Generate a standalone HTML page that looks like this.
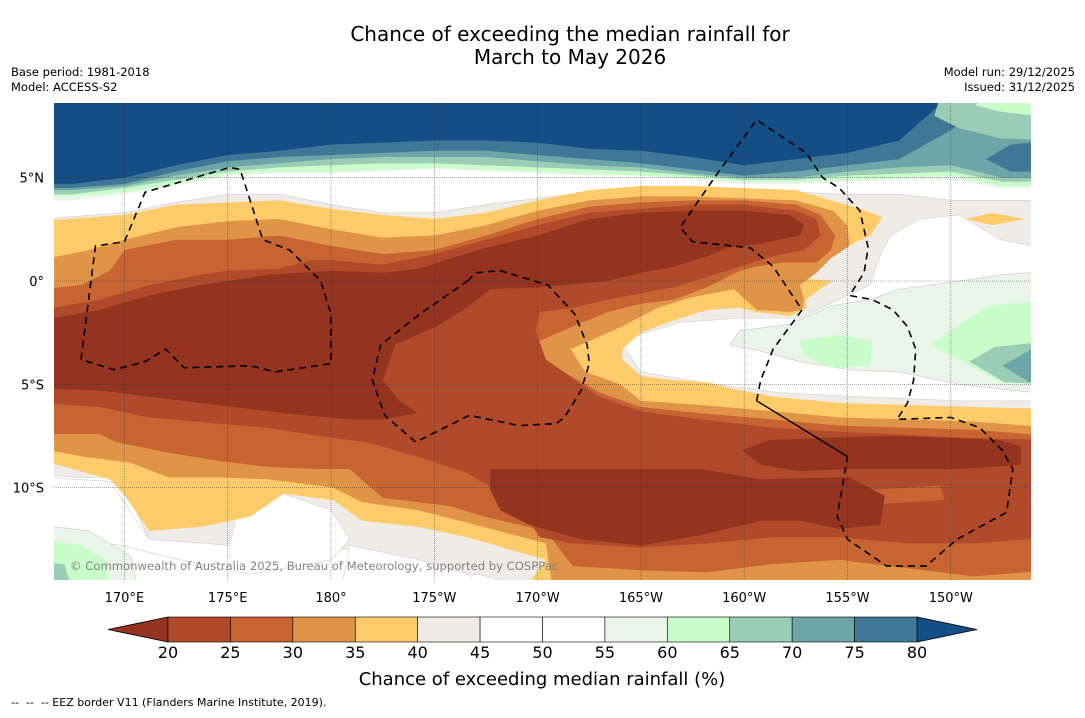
<!DOCTYPE html>
<html><head><meta charset="utf-8"><style>
html,body{margin:0;padding:0;background:#fff;}
body{width:1085px;height:713px;overflow:hidden;font-family:"Liberation Sans","DejaVu Sans",sans-serif;}
svg text{font-family:"DejaVu Sans","Liberation Sans",sans-serif;}
</style></head><body>
<svg id="chart" width="1085" height="713" viewBox="0 0 1085 713" xmlns="http://www.w3.org/2000/svg">
<defs><clipPath id="mapclip"><rect x="54" y="103" width="977" height="477"/></clipPath></defs>
<text x="570" y="41" font-size="20" text-anchor="middle" fill="#000">Chance of exceeding the median rainfall for</text>
<text x="570" y="64" font-size="20" text-anchor="middle" fill="#000">March to May 2026</text>
<text x="11" y="76" font-size="11.5">Base period: 1981-2018</text>
<text x="11" y="91" font-size="11.5">Model: ACCESS-S2</text>
<text x="1075" y="76" font-size="11.5" text-anchor="end">Model run: 29/12/2025</text>
<text x="1075" y="91" font-size="11.5" text-anchor="end">Issued: 31/12/2025</text>
<g id="map" clip-path="url(#mapclip)"><rect x="54" y="103" width="977" height="477" fill="#ffffff"/></g>
<g id="axes"></g>
<g id="cbar"></g>
<text x="542" y="685" font-size="18" text-anchor="middle">Chance of exceeding median rainfall (%)</text>
<text x="11" y="706" font-size="11" style="white-space:pre" xml:space="preserve">--  --  -- EEZ border V11 (Flanders Marine Institute, 2019).</text>
</svg>
<script>
// Colour scale data
const levels = [20,25,30,35,40,45,50,55,60,65,70,75,80];
const binColors = ["#b04a2a","#c86432","#e09448","#fecb6a","#efebe5","#ffffff","#ffffff","#e8f5e8","#c8fcc8","#9acdb5","#6da5a8","#3f7797"];
const lowColor = "#94331f";
const highColor = "#154d87";
const lonTicks = [170,175,180,185,190,195,200,205,210];
const lonTickLabels = ["170°E","175°E","180°","175°W","170°W","165°W","160°W","155°W","150°W"];
const latTicks = [5,0,-5,-10];
const latTickLabels = ["5°N","0°","5°S","10°S"];
// Northern band contour lats at columns
const bandLons = [165,167.5,170,172.5,175,177.5,180,182.5,185,187.5,190,192.5,195,197.5,200,202.5,205,207.5,210,212.5,215];
const n55 = [3.9,3.9,4.2,4.6,5.1,5.2,5.2,5.3,5.4,5.3,5.2,5.1,5.1,4.9,4.7,4.7,4.8,4.9,4.9,4.5,4.5];
const n60 = [4.1,4.1,4.3,4.7,5.2,5.3,5.3,5.4,5.5,5.4,5.3,5.2,5.1,5.0,4.8,4.8,4.9,5.0,5.1,4.6,4.6];
const n65 = [4.2,4.2,4.5,4.9,5.3,5.5,5.6,5.7,5.7,5.6,5.5,5.4,5.3,5.1,4.9,4.9,5.1,5.2,5.3,4.8,4.8];
const n70 = [4.4,4.4,4.6,5.1,5.5,5.7,5.9,6.0,6.0,6.0,5.8,5.6,5.5,5.2,5.0,5.0,5.3,5.5,5.6,5.0,5.0];
const n75 = [4.5,4.5,4.7,5.3,5.8,6.0,6.1,6.2,6.3,6.3,6.1,5.9,5.7,5.4,5.1,5.3,5.6,5.9,7.3,9,9];
const n80 = [4.7,4.7,5.0,5.6,6.1,6.3,6.6,6.7,6.8,6.8,6.7,6.4,6.3,6.0,5.6,5.9,6.2,6.8,9,9,9];
// Contour blobs [lon,lat]
const beige45 = [[165.9,3.0],[170,3.3],[172.5,3.8],[175,4.2],[177.5,4.2],[180,3.7],[182.5,3.3],[185,3.3],[187.5,3.7],[190,4.0],[192.5,4.3],[195,4.4],[197.5,4.4],[200,4.4],[202.5,4.3],[204.9,4.2],[207.5,4.2],[210,3.9],[214.9,3.9],[214.9,-15.4],[191.1,-15.4],[187.2,-14.2],[184.3,-14.2],[180.9,-13],[178.5,-12.8],[176.1,-13.5],[173.7,-12.8],[171.2,-12.5],[169.8,-9.5],[167.9,-9.5],[165.9,-9.4]];
const swWhite = [[165.9,-9.5],[169.3,-9.7],[171.2,-12.5],[175.1,-12.8],[175.6,-10.6],[177.7,-10.3],[180,-11.1],[180.9,-12.5],[180,-13.5],[176.1,-14.2],[172.7,-13.5],[169.8,-12.8],[167.9,-12.5],[165.9,-11.6]];
const sWhite = [[180.9,-12.8],[184.3,-13.5],[186.7,-14.2],[187.2,-15.4],[180.4,-15.4]];
const swLight55 = [[165.9,-11.8],[168.3,-12.1],[170.3,-13.3],[170.8,-15.4],[165.9,-15.4]];
const swGreen60 = [[165.9,-12.5],[167.9,-12.8],[169.1,-13.5],[169.3,-15.4],[165.9,-15.4]];
const swTeal65 = [[165.9,-13.6],[167.1,-13.7],[167.6,-15.4],[165.9,-15.4]];
const eWhite = [[194,-2.9],[196.9,-2.0],[199.8,-1.8],[202.7,-1.8],[204.6,-0.9],[206.1,-0.2],[206.6,1.3],[207.1,2.2],[208.5,3.0],[210.4,3.2],[212.4,2.0],[214.9,1.5],[214.9,-5.8],[210.4,-5.8],[205.6,-5.6],[201.7,-5.4],[197.9,-4.9],[195,-4.4]];
const eLight55 = [[199.3,-3.1],[199.8,-2.4],[202.2,-2.1],[204.2,-1.2],[206.1,-0.9],[207.5,-0.4],[210.4,0],[212.4,0.3],[214.9,0.5],[214.9,-5.5],[210.4,-5],[207.5,-4.4],[205.1,-4.3],[202.7,-3.9],[200.8,-3.4]];
const eGreenA = [[202.7,-2.9],[204.6,-2.6],[206.2,-2.9],[206.1,-4.1],[204.2,-4.2],[202.9,-3.6]];
const eGreenB = [[209,-3.1],[210.4,-2.1],[211.9,-1.2],[214.9,-0.9],[214.9,-5],[212.4,-4.9],[210.4,-3.8]];
const eTeal65 = [[210.9,-3.9],[212.1,-3.2],[214.9,-2.9],[214.9,-5],[212.6,-4.9]];
const eTeal70 = [[212.5,-4.1],[213.9,-3.3],[214.9,-3.3],[214.9,-5],[213.8,-4.9]];
const neYellow = [[210.7,3.0],[212,3.3],[213.6,3.0],[212,2.7]];
const neTeal65 = [[209.5,9],[214.9,9],[214.9,6.8],[212.4,6.9],[210.4,7.4],[209.2,8.0]];
const neGreen60 = [[211.7,9],[214.9,9],[214.9,7.9],[212.4,8.2],[211.2,8.5]];
const neBlue75 = [[211.7,5.9],[212.9,6.6],[214.9,6.8],[214.9,5.3],[212.9,5.3]];
const yellow40 = [[165.9,2.9],[170,3.2],[172.5,3.7],[175,3.8],[177.5,3.9],[180,3.5],[182.5,3.2],[185,3.0],[187.5,3.3],[190,3.9],[192.5,4.4],[195,4.6],[197.5,4.6],[200,4.5],[202.5,4.4],[204.2,3.9],[205.6,3.5],[206.7,3.1],[206.1,2.2],[204.6,1.5],[203.5,1.2],[202.1,0.7],[201.9,0.2],[204.3,0],[203.8,-0.3],[203,-0.9],[203,-1.3],[202.2,-1.7],[200.6,-1.5],[199.8,-1.3],[198.2,-1.4],[196.6,-1.9],[195,-2.5],[194.1,-3.3],[194.1,-3.8],[195,-4.6],[196.6,-4.8],[198.2,-4.9],[199.8,-5.3],[201.4,-5.6],[204.6,-5.9],[207.9,-6],[211.1,-6.1],[214.9,-6.2],[214.9,-15.4],[189,-15.4],[190.4,-13.5],[186.6,-12.4],[184.2,-11.9],[181.5,-11.6],[180.1,-10.6],[177.7,-10.3],[176.1,-11.4],[173.7,-11.9],[171.2,-12.1],[170.1,-10.5],[169.3,-9.6],[166.4,-8.8],[165.9,-8.8]];
const orange35 = [[165.9,1.0],[168.3,1.5],[170,2.0],[172.5,2.6],[175,2.9],[177.5,3.0],[180,2.5],[182.5,2.1],[185,2.2],[187.5,2.7],[190,3.4],[192.5,3.9],[195,4.1],[197.5,4.1],[200,4.0],[202.5,3.9],[204.3,3.4],[205,2.7],[205.1,1.7],[204.2,1.1],[203.5,0.4],[202.7,-0.2],[202.9,-0.9],[202.8,-1.4],[202.2,-1.5],[200.6,-1.4],[199.5,-0.4],[197.4,-0.8],[195.8,-1.3],[194.1,-2.2],[192.5,-2.9],[191.6,-3.3],[192.3,-4.4],[194,-5],[195,-5.8],[197.9,-6],[201.4,-6.3],[204.6,-6.6],[211.1,-6.8],[214.9,-7.1],[214.9,-15.4],[190.8,-15.4],[190.4,-12.7],[186.6,-11.7],[184.2,-11.1],[181.5,-10.7],[180.1,-10],[176.9,-9.6],[174.5,-9.5],[172.1,-9.5],[170.3,-8.8],[168,-8.5],[166.4,-8.2],[165.9,-8.2]];
const orange30 = [[165.9,-0.4],[167.9,-0.2],[169.3,0.5],[170,1.5],[172.5,2.0],[175,2.0],[177.5,2.2],[180,1.7],[182.5,1.3],[185,1.5],[187.5,2.2],[190,3.0],[192.5,3.6],[195,3.8],[197.5,3.9],[200,3.9],[202.5,3.7],[203.7,3.2],[204.4,2.2],[204.2,1.5],[203.5,0.9],[201.9,0.9],[200.6,0.7],[199.8,0.5],[198.2,-0.3],[196.6,-0.9],[195,-1.1],[193.4,-1.5],[191.7,-2.2],[190.1,-2.9],[190.1,-3.6],[191.1,-4.3],[193,-5.4],[195,-6.1],[197.9,-6.4],[201.4,-6.7],[204.6,-7],[211.1,-7.2],[214.9,-7.5],[214.9,-14],[211.1,-14.3],[207.9,-13.9],[204.6,-13.5],[201.4,-13.7],[198.2,-14.1],[195,-14],[191.7,-13.8],[190.4,-12.1],[187.4,-11.4],[185.8,-10.9],[182.5,-10.5],[180.9,-9.1],[179.3,-9.1],[176.9,-9],[174.5,-8.7],[172.1,-8.3],[169.6,-7.8],[168.8,-7.4],[165.9,-7.4]];
const red25 = [[165.9,-1.4],[168.8,-0.9],[171.2,-0.2],[173.7,0.3],[175,0.5],[177.5,0.6],[179,1.0],[180,1.0],[182.5,0.8],[185,1.3],[187.5,2.0],[190,2.7],[192.5,3.3],[195,3.5],[197.5,3.7],[200,3.7],[202.5,3.4],[203.5,3.0],[203.7,2.2],[202.9,1.5],[201.4,1.2],[199.8,0.7],[198.2,0.2],[196.6,-0.3],[195,-0.6],[193.4,-0.9],[191.7,-1.3],[190.1,-1.5],[189.9,-2.4],[190.4,-3.8],[192.1,-5],[193,-5.6],[195,-6.3],[197.9,-6.7],[201.4,-7.1],[204.6,-7.3],[211.1,-7.6],[214.9,-7.7],[214.9,-12.4],[211.1,-12.7],[207.9,-12.7],[204.6,-12.4],[201.4,-12.4],[198.2,-12.7],[195,-12.9],[191.7,-12.7],[190.1,-12.4],[189,-10.7],[186.6,-9.3],[184.2,-8.5],[181.7,-7.8],[180.1,-7.6],[176.9,-7.1],[174.5,-6.9],[171.2,-6.6],[168.8,-6.1],[165.9,-5.9]];
const orangePatch = [[206.1,-10.1],[209.5,-9.9],[209.7,-10.6],[206.5,-10.8]];
const dark20 = [[165.9,-1.9],[168.8,-1.4],[171.2,-0.7],[173.7,-0.2],[175,0],[177,0.3],[178.5,0.4],[180,0.5],[182.5,0.4],[184.3,0.6],[185.8,1.1],[187.5,1.6],[190,2.2],[192.5,3.0],[195,3.3],[197.5,3.4],[200,3.4],[202.2,3.2],[202.9,2.7],[202.7,2.2],[200.8,1.8],[199.2,1.6],[198.2,1.2],[196.6,0.7],[195,0.4],[193.4,0],[190.1,-0.3],[187.7,-0.4],[186.7,-1.2],[185.3,-2.1],[183.1,-3.1],[182.5,-4.8],[183.3,-5.8],[184.2,-6.4],[182.5,-6.7],[180.9,-6.7],[177.7,-6.4],[175.3,-6.1],[171.2,-5.6],[168.8,-5.3],[165.9,-5.2]];
const dark20East = [[199.9,-8.2],[201.2,-7.7],[203.7,-7.6],[207.5,-7.5],[212.4,-7.7],[213.4,-8],[213.4,-8.9],[210.4,-9.1],[205.1,-9.1],[202.7,-9.2],[200.8,-8.9]];
const dark20South = [[187.7,-9.1],[191.1,-9.1],[195,-9.1],[197.9,-9.1],[200.8,-9.6],[205.1,-9.5],[206.8,-10.4],[206.6,-11.8],[204.6,-12],[202.7,-11.6],[200.8,-11.6],[197.9,-12.3],[195,-12.8],[192.1,-12.5],[189.6,-11.8],[188.2,-11.1],[187.7,-10.1]];
// EEZ borders
const eezWest = [[167.9,-3.8],[168.6,1.7],[170,1.9],[171,4.3],[175.1,5.5],[175.6,5.4],[176.7,2.0],[178,1.5],[179.5,0],[180,-1.6],[180,-4],[177.3,-4.4],[176.1,-4.1],[172.9,-4.2],[172,-3.3],[171,-3.9],[169.5,-4.3],[167.9,-3.8]];
const eezPhoenix = [[186.6,0],[187,0.4],[188.2,0.5],[190.5,-0.2],[191.8,-1.6],[192.4,-3.1],[192.5,-4],[192.1,-5.3],[191.3,-6.6],[190.9,-6.9],[189.1,-7],[186.7,-6.5],[184.1,-7.8],[182.6,-6.5],[182,-4.8],[182.4,-3.1],[184.3,-1.6],[186.6,0]];
const eezLine = [[200.6,-5.8],[200.8,-4.8],[201.4,-3.3],[202.8,-1.4],[201.4,0.7],[200.3,1.6],[197.5,1.9],[196.9,2.6],[198.7,5.2],[200.6,7.8],[203,6.2],[203.8,5],[204.6,4.5],[205.6,3.4],[206,1.6],[205.8,0.4],[205.1,-0.7],[206.2,-0.9],[207.2,-1.4],[207.9,-2.2],[208.3,-3.3],[208.2,-4.8],[207.9,-5.9],[207.4,-6.7],[210,-6.6],[211.4,-7.1],[212.5,-8.2],[213,-9.1],[212.7,-11.2],[210.3,-12.5],[208.8,-13.8],[206.9,-13.8],[205,-12.5],[204.5,-11.4],[205,-8.5]];
const eezSolid = [[200.6,-5.8],[205,-8.5]];

const NS="http://www.w3.org/2000/svg";
const X = lon => 331 + (lon-180)*20.66;
const Y = lat => 281 - lat*20.66;
const map = document.getElementById('map');
function mk(tag, attrs, parent){const e=document.createElementNS(NS,tag);for(const k in attrs)e.setAttribute(k,attrs[k]);parent.appendChild(e);return e;}
function ptsStr(arr){return arr.map(p=>X(p[0]).toFixed(1)+','+Y(p[1]).toFixed(1)).join(' ');}
function blob(arr, color, name, stroke){
  const e = mk('polygon',{points:ptsStr(arr),fill:color,stroke:stroke||'none','stroke-width':stroke?0.7:0},map);
  
  
}
function band(lats, color, name){
  const pts = [[bandLons[0],10]].concat(bandLons.map((l,i)=>[l,lats[i]])).concat([[bandLons[bandLons.length-1],10]]);
  blob(pts, color, name);
}
band(n55, binColors[7], 'contour-55-north');
band(n60, binColors[8], 'contour-60-north');
band(n65, binColors[9], 'contour-65-north');
band(n70, binColors[10], 'contour-70-north');
band(n75, binColors[11], 'contour-75-north');
band(n80, highColor, 'contour-80-north');
blob(neTeal65, binColors[9], 'contour-65-northeast');
blob(neGreen60, binColors[8], 'contour-60-northeast');
blob(neBlue75, binColors[11], 'contour-75-northeast');
blob(beige45, binColors[4], 'contour-45', '#cfcfcf');
blob(swWhite, binColors[5], 'contour-50-southwest', '#d6d6d6');
blob(sWhite, binColors[5], 'contour-50-south', '#d6d6d6');
blob(swLight55, binColors[7], 'contour-55-southwest', '#cfcfcf');
blob(swGreen60, binColors[8], 'contour-60-southwest');
blob(swTeal65, binColors[9], 'contour-65-southwest');
blob(eWhite, binColors[5], 'contour-50-east', '#d6d6d6');
blob(eLight55, binColors[7], 'contour-55-east', '#cfcfcf');
blob(eGreenA, binColors[8], 'contour-60-east-a');
blob(eGreenB, binColors[8], 'contour-60-east-b');
blob(eTeal65, binColors[9], 'contour-65-east');
blob(eTeal70, binColors[10], 'contour-70-east');
blob(neYellow, binColors[3], 'contour-40-northeast');
blob(yellow40, binColors[3], 'contour-40');
blob(orange35, binColors[2], 'contour-35');
blob(orange30, binColors[1], 'contour-30');
blob(red25, binColors[0], 'contour-25');
blob(orangePatch, binColors[1], 'contour-30-patch');
blob(dark20, lowColor, 'contour-20-central');
blob(dark20East, lowColor, 'contour-20-east');
blob(dark20South, lowColor, 'contour-20-south');
lonTicks.forEach(l=>{
  const g = mk('line',{x1:X(l),x2:X(l),y1:103,y2:580,stroke:'#333','stroke-width':0.6,'stroke-dasharray':'1,1','stroke-opacity':0.7},map);
  
  
});
latTicks.forEach(l=>{
  const g = mk('line',{x1:54,x2:1031,y1:Y(l),y2:Y(l),stroke:'#333','stroke-width':0.6,'stroke-dasharray':'1,1','stroke-opacity':0.7},map);
  
  
});
[[eezWest,'eez-border-west'],[eezPhoenix,'eez-border-phoenix'],[eezLine,'eez-border-line-islands']].forEach(([a,n])=>{
  const e = mk('polyline',{points:ptsStr(a),fill:'none',stroke:'#000','stroke-width':1.6,'stroke-dasharray':'7,5'},map);
  
  
});
const so = mk('polyline',{points:ptsStr(eezSolid),fill:'none',stroke:'#000','stroke-width':1.4},map);


const cp = mk('text',{x:70,y:570,'font-size':11.6,fill:'#777','fill-opacity':0.9},map);
cp.textContent = '© Commonwealth of Australia 2025, Bureau of Meteorology, supported by COSPPac';


const axes = document.getElementById('axes');
lonTicks.forEach((l,i)=>{
  const t = mk('text',{x:X(l),y:602,'font-size':13,'text-anchor':'middle'},axes);
  t.textContent = lonTickLabels[i];
  
  
});
latTicks.forEach((l,i)=>{
  const t = mk('text',{x:44,y:Y(l)+5,'font-size':13,'text-anchor':'end'},axes);
  t.textContent = latTickLabels[i];
  
  
});
const cb = document.getElementById('cbar');
const cbL=168, cbR=917, cbT=617, cbB=642;
const cbX = v => cbL + (v-levels[0])/(levels[levels.length-1]-levels[0])*(cbR-cbL);
const lt = mk('polygon',{points:`${cbL},${cbT} ${cbL},${cbB} 108,${(cbT+cbB)/2}`,fill:lowColor,stroke:'#000','stroke-width':0.8},cb);


const rt = mk('polygon',{points:`${cbR},${cbT} ${cbR},${cbB} 977,${(cbT+cbB)/2}`,fill:highColor,stroke:'#000','stroke-width':0.8},cb);


binColors.forEach((c,i)=>{
  const r = mk('rect',{x:cbX(levels[i]),y:cbT,width:cbX(levels[i+1])-cbX(levels[i]),height:cbB-cbT,fill:c,stroke:'#000','stroke-width':0.6},cb);
  
  
});
levels.forEach(v=>{
  const t = mk('text',{x:cbX(v),y:658,'font-size':16,'text-anchor':'middle'},cb);
  t.textContent = v;
  
  
});
</script>
</body></html>
